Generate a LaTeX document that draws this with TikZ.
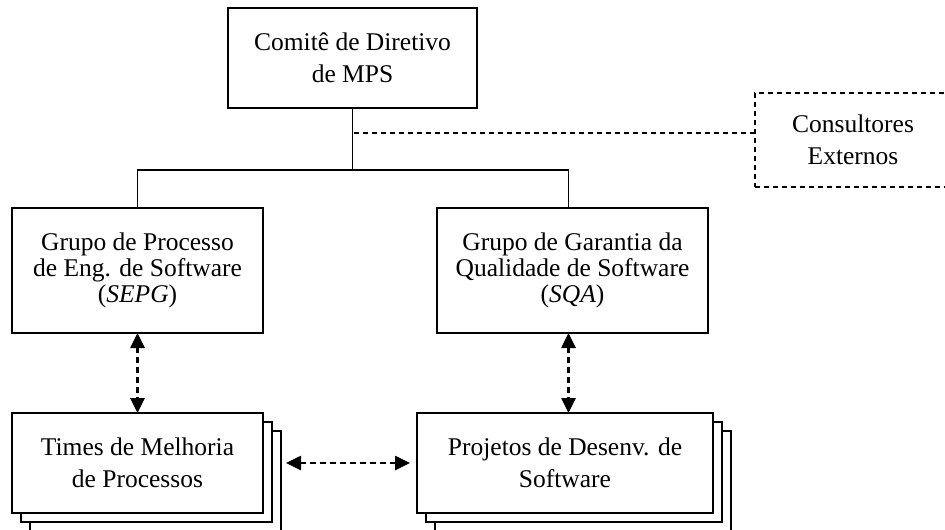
\documentclass[tikz,border=0pt]{standalone}
\usepackage{fontspec}
\setmainfont{Liberation Serif}
\usetikzlibrary{arrows.meta}
\newcommand{\folhas}[1]{\draw[caixa linha] ([shift={(0,9)}]#1.north east) -| ([shift={(9,9)}]#1.south east) -| ([shift={(9,0)}]#1.south west);
					\draw[caixa linha] ([shift={(9,18)}]#1.north east) -| ([shift={(18,18)}]#1.south east) -| ([shift={(18,9)}]#1.south west);}
\tikzset{caixa linha/.style={line width=1.6pt},
	caixa/.style={draw, caixa linha, fill=white, align=center, inner sep=0pt, outer sep=0pt, font=\fontsize{25.5}{32}\selectfont},
	caixa grupo/.style={caixa, font=\fontsize{25.5}{26}\selectfont},
	tracejado/.style={line width=1.5pt, dash pattern=on 5pt off 4pt},
	seta/.style={{Triangle[length=15pt,width=14pt]}-{Triangle[length=15pt,width=14pt]}, line width=2.6pt, dash pattern=on 6pt off 4pt}}

\begin{document}
\begin{tikzpicture}[x=1pt, y=-1pt]

					\clip (0,0) rectangle (945,530);

					\node[caixa, minimum width=249pt, minimum height=100pt] (comite) at (352.5,58) {Comitê de Diretivo\\de MPS};
					\node[caixa, tracejado, minimum width=196pt, minimum height=94pt] (consultores) at (853,140) {Consultores\\Externos};

					\node[caixa grupo, minimum width=251pt, minimum height=125pt] (sepg) at (137.5,270.5) {Grupo de Processo\\de Eng. de Software\\(\textit{SEPG})};
					\node[caixa grupo, minimum width=271pt, minimum height=125pt] (sqa) at (572.5,270.5) {Grupo de Garantia da\\Qualidade de Software\\(\textit{SQA})};

					\node[caixa, minimum width=251pt, minimum height=100pt] (times) at (137.5,463) {Times de Melhoria\\de Processos};
					\folhas{times}

					\node[caixa, minimum width=296pt, minimum height=100pt] (projetos) at (565,463) {Projetos de Desenv. de\\Software};
					\folhas{projetos}

					% hierarquia
					\coordinate (barra) at (0,170);
					\draw[caixa linha] (comite.south) -- (comite.south |- barra);
					\draw[caixa linha] (sepg.north) |- ([xshift=-4pt]sqa.north |- barra) -- ([xshift=-4pt]sqa.north);
					\draw[tracejado] ([yshift=7pt]consultores.west) -- ([yshift=7pt]consultores.west -| comite.south);

					% setas
					\draw[seta] (sepg.south) -- (times.north);
					\draw[seta] ([xshift=-4pt]sqa.south) -- ([xshift=-4pt]sqa.south |- projetos.north);
					\draw[seta, shorten <=23pt, shorten >=7pt] (times.east) -- (projetos.west);

\end{tikzpicture}
\end{document}
